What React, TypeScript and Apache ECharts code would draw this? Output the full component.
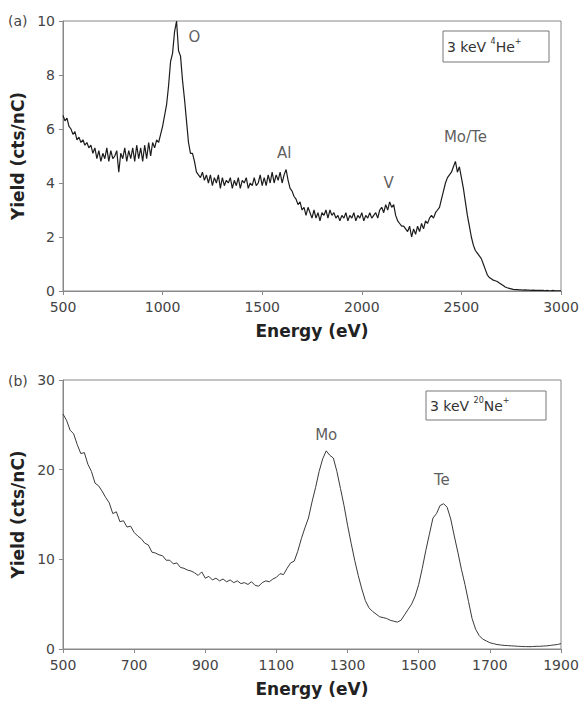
import React, { useEffect, useRef } from "react";
import * as echarts from "echarts";

// Energy grid shared by both spectra (eV)
const ENERGY_START = 500;
const ENERGY_STEP = 10;

// (a) 3 keV 4He+ : yield (cts/nC) from 500 to 3000 eV, one value per 10 eV
const yieldHe: number[] = [
  6.5, 6.3, 6.4, 6.1, 6.0, 5.8, 5.9, 5.6, 5.7, 5.5, // 500
  5.6, 5.4, 5.5, 5.3, 5.4, 5.1, 5.3, 4.9, 5.2, 4.8, // 600
  5.1, 4.9, 5.3, 4.8, 5.2, 4.9, 5.0, 5.2, 4.4, 5.1, // 700
  4.9, 5.3, 4.8, 5.2, 4.9, 5.3, 4.8, 5.4, 4.9, 5.3, // 800
  4.8, 5.4, 4.9, 5.5, 5.0, 5.5, 5.3, 5.6, 5.5, 5.8, // 900
  6.1, 6.5, 6.9, 7.6, 8.5, 8.8, 9.6, 10.0, 8.9, 8.7, // 1000
  7.8, 7.1, 6.3, 5.5, 5.1, 5.1, 4.8, 4.4, 4.3, 4.2, // 1100
  4.4, 4.1, 4.3, 4.0, 4.3, 3.9, 4.2, 4.0, 4.3, 3.8, // 1200
  4.2, 3.9, 4.1, 4.0, 4.2, 3.8, 4.1, 3.9, 4.2, 3.8, // 1300
  4.1, 4.0, 4.2, 3.8, 4.0, 3.9, 4.2, 3.9, 4.0, 4.3, // 1400
  3.9, 4.2, 3.9, 4.3, 4.0, 4.4, 4.0, 4.3, 4.1, 4.4, // 1500
  4.0, 4.3, 4.5, 4.1, 3.8, 3.7, 3.5, 3.4, 3.2, 3.3, // 1600
  3.0, 3.1, 2.8, 3.1, 2.9, 2.7, 3.0, 2.7, 2.9, 2.6, // 1700
  2.9, 2.8, 3.0, 2.7, 3.0, 2.8, 2.9, 2.7, 2.8, 2.6, // 1800
  2.8, 2.7, 2.9, 2.6, 2.8, 2.7, 2.9, 2.6, 2.8, 2.7, // 1900
  2.9, 2.6, 2.8, 2.7, 2.9, 2.7, 2.8, 2.9, 2.7, 3.0, // 2000
  3.1, 2.9, 3.2, 3.0, 3.3, 3.1, 3.2, 2.8, 2.6, 2.5, // 2100
  2.4, 2.4, 2.3, 2.2, 2.4, 2.0, 2.3, 2.1, 2.4, 2.2, // 2200
  2.5, 2.3, 2.6, 2.5, 2.7, 2.8, 2.7, 2.9, 3.0, 3.1, // 2300
  3.4, 3.7, 4.0, 4.2, 4.3, 4.4, 4.6, 4.8, 4.4, 4.6, // 2400
  4.2, 3.8, 3.3, 2.8, 2.4, 2.0, 1.7, 1.5, 1.4, 1.3, // 2500
  1.2, 1.0, 0.8, 0.6, 0.5, 0.45, 0.4, 0.38, 0.35, 0.3, // 2600
  0.25, 0.2, 0.15, 0.12, 0.1, 0.08, 0.06, 0.05, 0.05, 0.04, // 2700
  0.04, 0.03, 0.04, 0.03, 0.03, 0.02, 0.03, 0.02, 0.02, 0.02, // 2800
  0.02, 0.02, 0.01, 0.02, 0.01, 0.01, 0.02, 0.01, 0.01, 0.01, // 2900
  0.01, // 3000
];

// (b) 3 keV 20Ne+ : yield (cts/nC) from 500 to 1900 eV, one value per 10 eV
const yieldNe: number[] = [
  26.2, 25.5, 24.4, 24.0, 22.8, 21.8, 21.9, 20.6, 19.8, 18.5, // 500
  18.2, 17.6, 16.9, 16.3, 15.1, 15.3, 14.2, 14.3, 13.6, 13.7, // 600
  13.0, 12.6, 12.3, 11.8, 11.6, 10.8, 10.7, 10.5, 10.4, 9.9, // 700
  9.9, 9.5, 9.6, 9.1, 9.0, 8.8, 8.7, 8.5, 8.2, 8.6, // 800
  7.9, 8.1, 7.7, 7.9, 7.6, 7.8, 7.5, 7.7, 7.4, 7.6, // 900
  7.3, 7.4, 7.2, 7.5, 7.1, 7.0, 7.4, 7.6, 7.5, 7.8, // 1000
  8.0, 8.4, 8.3, 9.0, 9.6, 9.8, 10.9, 12.3, 13.5, 14.6, // 1100
  16.4, 18.0, 19.8, 21.2, 22.1, 21.6, 21.3, 19.8, 17.9, 16.0, // 1200
  13.8, 11.8, 9.9, 8.2, 6.7, 5.4, 4.6, 4.2, 3.9, 3.6, // 1300
  3.5, 3.4, 3.2, 3.1, 3.0, 3.2, 3.8, 4.4, 5.0, 5.9, // 1400
  7.2, 9.0, 11.0, 12.8, 14.6, 15.1, 16.0, 16.2, 15.8, 14.5, // 1500
  12.6, 10.8, 8.9, 7.2, 5.3, 3.4, 2.2, 1.5, 1.1, 0.9, // 1600
  0.7, 0.6, 0.5, 0.45, 0.4, 0.38, 0.35, 0.33, 0.3, 0.28, // 1700
  0.27, 0.26, 0.27, 0.3, 0.3, 0.33, 0.35, 0.4, 0.45, 0.5, // 1800
  0.6, // 1900
];

// Axis ranges and tick spacing
const axisA = { xMin: 500, xMax: 3000, xStep: 500, yMin: 0, yMax: 10, yStep: 2 };
const axisB = { xMin: 500, xMax: 1900, xStep: 200, yMin: 0, yMax: 30, yStep: 10 };

// Peak labels: [text, energy, yield]
const peakLabelsA: [string, number, number][] = [
  ["O", 1160, 9.4],
  ["Al", 1610, 5.1],
  ["V", 2135, 4.0],
  ["Mo/Te", 2520, 5.7],
];
const peakLabelsB: [string, number, number][] = [
  ["Mo", 1240, 23.9],
  ["Te", 1565, 18.9],
];

const FONT = "'DejaVu Sans', 'Liberation Sans', sans-serif";

const toPairs = (vals: number[]) =>
  vals.map((v, i) => [ENERGY_START + i * ENERGY_STEP, v]);

export default function App() {
  const ref = useRef<HTMLDivElement>(null);

  useEffect(() => {
    if (!ref.current) return;
    const chart = echarts.init(ref.current, undefined, { renderer: "svg" });

    const grids = [
      { left: 63, top: 21, width: 498, height: 270 },
      { left: 63, top: 380, width: 498, height: 269 },
    ];

    const xAxisBase = (gridIndex: number, a: typeof axisA) => ({
      gridIndex,
      type: "value" as const,
      min: a.xMin,
      max: a.xMax,
      interval: a.xStep,
      name: "Energy (eV)",
      nameLocation: "middle" as const,
      nameGap: 31,
      nameTextStyle: { fontFamily: FONT, fontWeight: "bold", fontSize: 17, color: "#222" },
      axisLine: { show: true, lineStyle: { color: "#888", width: 1 } },
      axisTick: { show: true, length: 4, lineStyle: { color: "#888" } },
      axisLabel: {
        fontFamily: FONT,
        fontSize: 14,
        color: "#444",
        margin: 9,
        showMinLabel: true,
        showMaxLabel: true,
        hideOverlap: false,
        formatter: (v: number) => String(v),
      },
      splitLine: { show: false },
    });

    const yAxisBase = (gridIndex: number, a: typeof axisA) => ({
      gridIndex,
      type: "value" as const,
      min: a.yMin,
      max: a.yMax,
      interval: a.yStep,
      name: "Yield (cts/nC)",
      nameLocation: "middle" as const,
      nameGap: 35,
      nameTextStyle: { fontFamily: FONT, fontWeight: "bold", fontSize: 17, color: "#222" },
      axisLine: { show: true, lineStyle: { color: "#888", width: 1 } },
      axisTick: { show: true, length: 4, lineStyle: { color: "#888" } },
      axisLabel: {
        fontFamily: FONT,
        fontSize: 14,
        color: "#444",
        margin: 8,
        formatter: (v: number) => String(v),
      },
      splitLine: { show: false },
    });

    const labelSeries = (gridIndex: number, labels: [string, number, number][]) => ({
      type: "scatter" as const,
      xAxisIndex: gridIndex,
      yAxisIndex: gridIndex,
      symbolSize: 0,
      silent: true,
      data: labels.map(([t, x, y]) => ({ value: [x, y], name: t })),
      label: {
        show: true,
        position: "inside" as const,
        formatter: (p: any) => p.name,
        fontFamily: FONT,
        fontSize: 15,
        color: "#333",
      },
    });

    const legendBox = (
      x: number,
      y: number,
      w: number,
      h: number,
      text: string
    ) => ({
      type: "group",
      children: [
        {
          type: "rect",
          shape: { x, y, width: w, height: h },
          style: { fill: "#fff", stroke: "#777", lineWidth: 1 },
        },
        {
          type: "text",
          x: x + 4,
          y: y + h / 2,
          style: {
            text,
            textVerticalAlign: "middle",
            fontFamily: FONT,
            fontSize: 14,
            fill: "#333",
            rich: {
              a: { fontFamily: FONT, fontSize: 14, color: "#333", lineHeight: 18 },
              s: {
                fontFamily: FONT,
                fontSize: 8,
                color: "#333",
                lineHeight: 18,
                verticalAlign: "top",
              },
            },
          },
        },
      ],
    });

    chart.setOption({
      animation: false,
      backgroundColor: "#fff",
      grid: grids.map((g) => ({
        ...g,
        show: true,
        borderColor: "#888",
        borderWidth: 1,
        backgroundColor: "transparent",
      })),
      xAxis: [xAxisBase(0, axisA), xAxisBase(1, axisB)],
      yAxis: [yAxisBase(0, axisA), yAxisBase(1, axisB)],
      series: [
        {
          type: "line",
          xAxisIndex: 0,
          yAxisIndex: 0,
          data: toPairs(yieldHe),
          showSymbol: false,
          lineStyle: { color: "#1c1c1c", width: 1.2 },
        },
        {
          type: "line",
          xAxisIndex: 1,
          yAxisIndex: 1,
          data: toPairs(yieldNe),
          showSymbol: false,
          lineStyle: { color: "#3a3a3a", width: 1 },
        },
        labelSeries(0, peakLabelsA),
        labelSeries(1, peakLabelsB),
      ],
      graphic: [
        {
          type: "text",
          left: 8,
          top: 14,
          style: { text: "(a)", fontFamily: FONT, fontSize: 14, fill: "#444" },
        },
        {
          type: "text",
          left: 8,
          top: 374,
          style: { text: "(b)", fontFamily: FONT, fontSize: 14, fill: "#444" },
        },
        legendBox(443, 31, 106, 31, "{a|3 keV }{s|4}{a|He}{s|+}"),
        legendBox(426, 391, 120, 29, "{a|3 keV }{s|20}{a|Ne}{s|+}"),
      ],
    });

    return () => chart.dispose();
  }, []);

  return (
    <div
      ref={ref}
      style={{
        position: "fixed",
        left: 0,
        top: 0,
        width: 582,
        height: 702,
        background: "#fff",
      }}
    />
  );
}
